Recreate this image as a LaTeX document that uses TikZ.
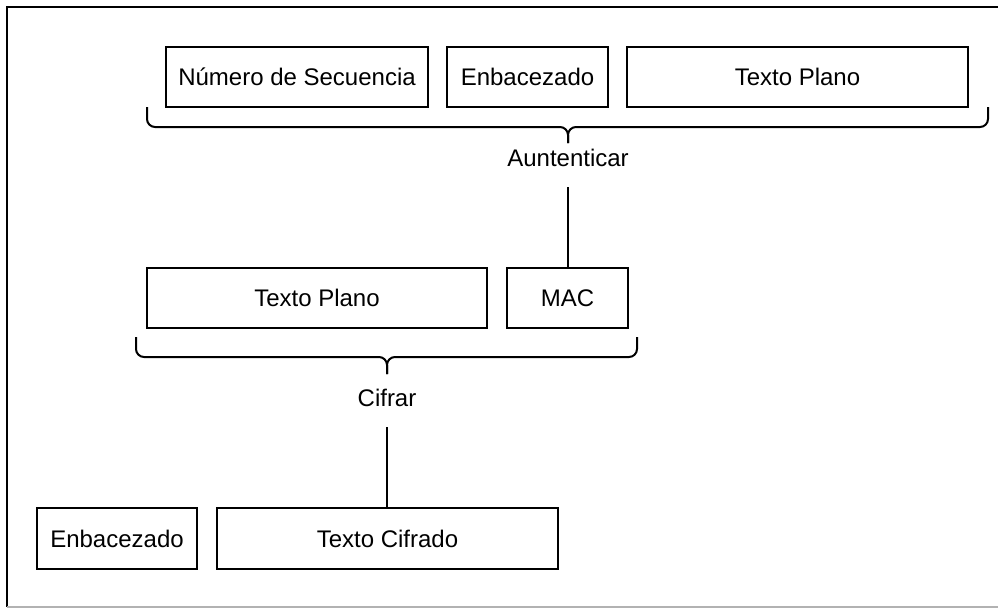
\documentclass[tikz,border=0pt]{standalone}
\usepackage{fontspec}
\setmainfont{Liberation Sans}
\usetikzlibrary{positioning}

\newlength{\du}
\setlength{\du}{0.75pt}

\tikzset{
  field/.style={draw=black, line width=2\du, minimum height=60\du, inner sep=0pt, font=\fontsize{18}{20}\selectfont},
  lbl/.style={minimum height=58\du, inner sep=0pt, font=\fontsize{18}{20}\selectfont},
  bracket/.style={draw=black, line width=2\du, rounded corners=8\du},
  link/.style={draw=black, line width=1.6\du}
}

\begin{document}
\begin{tikzpicture}
\pgftransformxscale{1.000000}
\pgftransformyscale{-1.000000}
\useasboundingbox (0\du,0\du) rectangle (998\du,608\du);
% frame
\draw[line width=2\du] (998\du,7\du)--(7\du,7\du)--(7\du,607\du);
\draw[line width=2\du, color=black!30] (7\du,607\du)--(998\du,607\du);
% first row
\node[field, minimum width=262\du] (seqnum) at (297\du,77\du){Número de Secuencia};
\node[field, minimum width=161\du] (header) at (527.5\du,77\du){Enbacezado};
\node[field, minimum width=341\du] (plain) at (797.5\du,77\du){Texto Plano};
\draw[bracket] (147\du,107\du) |- (568\du,127\du) -- (568\du,143\du);
\draw[bracket] (988\du,107\du) |- (568\du,127\du) -- (568\du,143\du);
\node[lbl] (auth) at (568\du,158\du){Auntenticar};
% second row
\node[field, minimum width=340\du] (plaintwo) at (317\du,298\du){Texto Plano};
\node[field, minimum width=121\du] (mac) at (567.5\du,298\du){MAC};
\draw[link] (auth) -- (auth |- mac.north);
\draw[bracket] (136\du,337\du) |- (387\du,357\du) -- (387\du,374\du);
\draw[bracket] (637\du,337\du) |- (387\du,357\du) -- (387\du,374\du);
\node[lbl] (enc) at (387\du,398\du){Cifrar};
% third row
\node[field, minimum width=160\du, minimum height=61\du] (headertwo) at (117\du,538.5\du){Enbacezado};
\node[field, minimum width=341\du, minimum height=61\du] (cipher) at (387.5\du,538.5\du){Texto Cifrado};
\draw[link] (enc) -- (enc |- cipher.north);
\end{tikzpicture}
\end{document}
